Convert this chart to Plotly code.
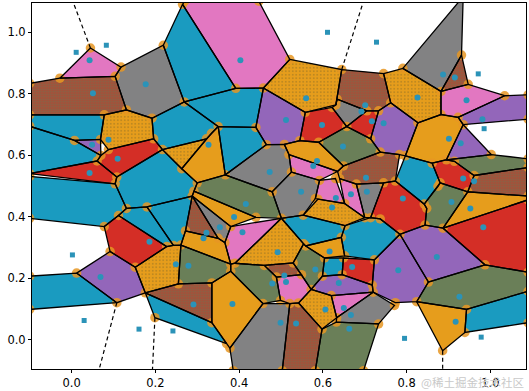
import plotly.graph_objects as go

vertex_names = """A B C D LA E LB G H I
J K TK L M TP N O P Q
R U S T W X Y Z AA AB
LC AC AD LD AG AF AJ AK AL AH
AI AM AN AO AR AS AV AT AU AW
AY BA BB BC BD BF BG BH BI BJ
BK BL BM BN BO BP BQ BR BS BT
BU BV BW BX BY BZ LE LF CA CC
CD LG LH CE BOT1 BOT2 CG CH BOT3 CI
CJ BOT4 CM CS CL CN CP CT CU CV
CW CX CY DA DB DC DF DG DH DU
DY EA EB EC DJ DK DL DM DN DO
DQ DR DT DV DX DZ EE EF EG EH
EI EJ EK EL EN EO EP ER ES EV
ET EU EW EY EZ FA FB FD FE FF
FG RA RB FH FJ FK RC RD FO FP
FQ RE RF FS RG FT FU FV FW RH
FY RI GA GB""".split()
vertex_x = [
 .045, -.028, .118, .104, -.1, .131, -.1, .078, .192, .269,
 .219, .265, .27, .392, .458, .447, .521, .645, .631, .558,
 .545, .508, .465, .440, .350, .217, .196, .088, .069, .007,
 -.1, .070, .061, -.1, .108, .104, .131, .180, .288, .263,
 .300, .322, .334, .367, .525, .479, .292, .501, .440, .380,
 .366, .350, .272, .261, .380, .390, .554, .529, .460, .549,
 .489, .499, .457, .380, .378, .335, .335, .255, .176, .012,
 .092, .152, .108, .078, .112, .227, -.1, -.1, .243, .370,
 .199, -.1, -.1, .521, .386, .503, .542, .598, .582, .632,
 .733, .697, .633, .720, .771, .620, .572, .599, .646, .604,
 .649, .723, .718, .644, .652, .559, .553, .653, .588, .652,
 .700, .714, .737, .784, .622, .657, .590, .649, .635, .519,
 .592, .582, .630, .640, .680, .745, .773, .842, .848, .844,
 .797, .861, .880, .875, .737, .783, .714, .634, .705, .733,
 .745, .762, .827, .791, .882, .882, .935, .931, .947, 1.034,
 .923, 1.09, 1.09, .935, .895, 1.002, 1.09, 1.09, .914, .961,
 .946, 1.09, 1.09, .887, 1.09, .987, .852, .824, .773, 1.09,
 .943, 1.09, .939, .886]
vertex_y = [
 .948, .850, .886, .856, .833, .747, .731, .731, .720, .773,
 .957, 1.09, 1.10, .817, .818, 1.10, .911, .878, .763, .739,
 .647, .635, .634, .690, .693, .618, .653, .618, .651, .648,
 .694, .599, .581, .540, .529, .507, .427, .432, .467, .556,
 .510, .653, .671, .536, .545, .481, .483, .395, .398, .368,
 .316, .330, .354, .308, .246, .249, .312, .250, .242, .212,
 .204, .128, .118, .223, -.027, .056, .185, .182, .153, .217,
 .287, .236, .121, .368, .404, .303, .531, .395, .307, -.012,
 .072, .207, .099, .118, -.1, -.1, .120, .035, -.1, .058,
 .052, -.1, .072, .155, .112, .144, .164, .207, .212, .266,
 .266, .260, .178, .333, .273, .305, .405, .371, .457, .443,
 .397, .397, .393, .343, .755, .693, .642, .565, .547, .602,
 .518, .459, .524, .524, .506, .510, .516, .441, .427, .373,
 .598, .574, .510, .499, .610, .602, .653, .782, .744, .744,
 .865, .770, .705, .882, .807, .732, 1.115, .925, .830, .793,
 .723, .796, .717, .699, .585, .602, .588, .560, .580, .534,
 .481, .467, .455, .363, .220, .244, .188, .124, .121, .158,
 .099, .056, .024, -.035]

region_vertices = [
 "A B D C", "LA B D E G LB", "C D E H I J", "J K L I", "K TK TP N M L",
 "N O P Q M", "M Q R U S T", "I L M T W", "H I W AN AM X Y", "E H Y Z AA G",
 "LB G AA AB LC", "AB AA AC", "LC AB AC AD LD", "LD AD AG AF", "Z Y X AG AD AC",
 "X AH AI AL AK AJ AF AG", "X AM AH", "AH AM AN W AO AI", "W T S AO", "AO S U DO AR AS",
 "AI AO AS AT AU AV", "AV AU AW AL", "AL AW AY BA", "AL BA BB", "BB BA AY BD BC",
 "AW AT BF BD AY", "AT BG BH BI BF", "BC BD BN BQ BR", "BR BQ BP BS", "BT BU BV BS BW",
 "BX BY BZ BV BU", "LE AF AJ BY BX LF", "AJ AK CA BZ BY", "AK AL BB BC CA", "BV BZ CA BC BR BS",
 "BS BP CC CD", "LG BT BW LH", "BN BM BO BP BQ", "BO BM CE BOT2 BOT1", "CE CG CH BOT3 BOT2",
 "CH CI CJ BOT4 BOT3", "CI CM CS CL CJ", "CN CS CM", "CP CN CM CH CG", "BK BJ CP CG CE BL",
 "CP CT CU CY CS CN", "CV CW CU CT", "CW CX CY CU", "DC DA DB CV", "BG DC CV CT CP BJ BH",
 "BF BI BK BL BM BN BD", "BI BH BJ BK", "AT DF DG DA DC BG", "DA DG EA EB EC CX DB", "DF DH DU DY DG",
 "AR DQ DR DF AT AS", "DO DN DQ AR", "DQ DT DU DR", "DV DX DY DU", "DX DZ EA DY",
 "DZ EE EF EG EH EC EB EA", "EE EI EJ EK EL EF", "DN DM EN EO EE DZ DX DV", "U R DL DM DN DO", "Q DJ DK DL R",
 "DL DK EP EN DM", "P ER ES DK DJ", "O ET EU EV ES ER P", "ES EV EP DK", "EU EW EI EO EN EP EV",
 "ET EY EZ FA EW EU", "EY FB FD EZ", "FD FE EZ", "EZ FE FF FG FA", "FF RA RB FH FG",
 "EW FA FG FH FJ EJ EI", "FH FK FJ", "FJ FK RC RD FP FO", "FP RD RE FQ", "EJ FJ FO FP FQ EK",
 "EF EL EK FQ FS EH EG", "FS FQ RE RF", "FS RF RG FT", "EC EH FS FT FU", "EC FU FV FW CS CY CX",
 "FT RG RH FY FV FU", "FY RH RI GA", "FV FY GA GB"]
region_styles = [
 "pink", "brown", "gray", "blue", "pink",
 "dots", "purple", "blue", "blue", "dots",
 "blue", "purple", "blue", "red", "red",
 "blue", "dots", "gold", "blue", "gray",
 "olive", "gold", "gray", "brown", "gold",
 "pink", "dots", "olive", "brown", "purple",
 "red", "blue", "blue", "blue", "dots",
 "blue", "blue", "gold", "gray", "brown",
 "olive", "gray", "pink", "dots", "pink",
 "purple", "blue", "red", "gold", "olive",
 "olive", "brown", "blue", "blue", "dots",
 "gray", "pink", "pink", "pink", "gray",
 "red", "blue", "brown", "gold", "red",
 "olive", "gray", "brown", "red", "purple",
 "dots", "gray", "brown", "pink", "purple",
 "gold", "purple", "olive", "brown", "red",
 "olive", "gold", "red", "purple", "purple",
 "olive", "blue", "gold"]

ridge_from = ["A", "O", "BW", "CD", "GB"]
ridge_to_x = [.003, .697, .065, .193, .886]
ridge_to_y = [1.10, 1.10, -.10, -.10, -.10]

seed_x = [.043, .051, .177, .403, .088, .110, .043, .327, .560, .512, .598, .701, .692, .717, .745,
          .826, .887, .915, .943, .981, .901, .929, .648, .586, .577, .473, .703, .935, .961, .548,
          .667, .705, .791, .907, .952, .983, .622, .631, .492, .616, .670, .582, .780, .872, .638,
          .508, .512, .479, .926, .606, .650, .667, .499, .536, .663, .917, .186, .069, .249, .279,
          .291, .384, .416, .388, .354, .322, .315, .408, .049]
seed_y = [.908, .801, .830, .908, .650, .588, .542, .634, .785, .714, .698, .762, .742, .710, .704,
          .787, .862, .852, .778, .717, .653, .639, .628, .581, .565, .545, .527, .524, .515, .481,
          .473, .481, .459, .448, .427, .366, .430, .461, .285, .287, .237, .229, .226, .269, .185,
          .209, .188, .183, .140, .099, .104, .081, .056, .053, .036, .059, .319, .204, .246, .241,
          .115, .117, .441, .399, .366, .348, .330, .350, .634]
outer_x = [.011, .083, .611, .728, .971, .985, .002, .030, .161, .242, .795, .978]
outer_y = [.934, .957, .999, .967, .864, .686, .276, .063, .035, .029, .005, .009]

x_ticks = [0.0, 0.2, 0.4, 0.6, 0.8, 1.0]
y_ticks = [0.0, 0.2, 0.4, 0.6, 0.8, 1.0]
watermark = "@稀土掘金技术社区"

SOLID = {"pink": "#e277c1", "blue": "#1a9bc0", "gold": "#e69d1c", "red": "#d42e26",
         "purple": "#9366ba", "olive": "#6a7f58"}
PATTERN = {
    "dots": dict(shape=".", bgcolor="#e69d1c", fgcolor="#7a6326", size=3.5, solidity=0.18),
    "brown": dict(shape=".", bgcolor="#b04a34", fgcolor="#5f7a58", size=2.5, solidity=0.55),
    "gray": dict(shape=".", bgcolor="#8a8686", fgcolor="#5a6a70", size=2, solidity=0.35),
}

pos = {n: (x, y) for n, x, y in zip(vertex_names, vertex_x, vertex_y, strict=True)}
assert len(region_vertices) == len(region_styles)

fig = go.Figure()
rings = []
for names, style in zip(region_vertices, region_styles):
    ids = names.split()
    xs = [pos[n][0] for n in ids] + [pos[ids[0]][0]]
    ys = [pos[n][1] for n in ids] + [pos[ids[0]][1]]
    rings.append((xs, ys))
    kw = dict(fillcolor=SOLID[style]) if style in SOLID else dict(fillpattern=PATTERN[style], fillcolor=PATTERN[style]["bgcolor"])
    fig.add_trace(go.Scatter(x=xs, y=ys, mode="lines", fill="toself", line=dict(width=0), hoverinfo="skip", **kw))

fig.add_trace(go.Scatter(x=vertex_x, y=vertex_y, mode="markers",
                         marker=dict(size=9.5, color="rgba(230,150,35,0.85)", line=dict(width=0))))

for xs, ys in rings:
    fig.add_trace(go.Scatter(x=xs, y=ys, mode="lines", line=dict(color="black", width=1.3)))

for a, tx, ty in zip(ridge_from, ridge_to_x, ridge_to_y):
    fig.add_trace(go.Scatter(x=[pos[a][0], tx], y=[pos[a][1], ty], mode="lines",
                             line=dict(color="black", width=1.2, dash="4px,3px")))

fig.add_trace(go.Scatter(x=seed_x, y=seed_y, mode="markers",
                         marker=dict(size=6, color="#2b93b8", line=dict(width=0))))
fig.add_trace(go.Scatter(x=outer_x, y=outer_y, mode="markers",
                         marker=dict(size=5, color="#2b93b8", symbol="square", line=dict(width=0))))

axis = dict(showgrid=False, zeroline=False, showline=True, mirror=True, linecolor="black", linewidth=1,
            ticks="outside", ticklen=3, tickwidth=1, tickcolor="black", tickformat=".1f",
            tickfont=dict(family="DejaVu Sans", size=11.5, color="black"))
fig.update_layout(
    width=529, height=391, showlegend=False, plot_bgcolor="white", paper_bgcolor="white",
    margin=dict(l=31.5, r=2, t=1.5, b=21),
    xaxis=dict(range=[-0.0945, 1.085], tickvals=x_ticks, **axis),
    yaxis=dict(range=[-0.0945, 1.0942], tickvals=y_ticks, **axis),
    annotations=[dict(text=watermark, xref="paper", yref="paper", x=1.0, y=-0.035, xanchor="right",
                      yanchor="middle", showarrow=False,
                      font=dict(family="Noto Sans CJK SC", size=11.5, color="#c9c9c9"))],
)
fig.write_html("out.html", config={"displayModeBar": False},
               post_script="document.body.style.margin='0';document.body.style.overflow='hidden';")
